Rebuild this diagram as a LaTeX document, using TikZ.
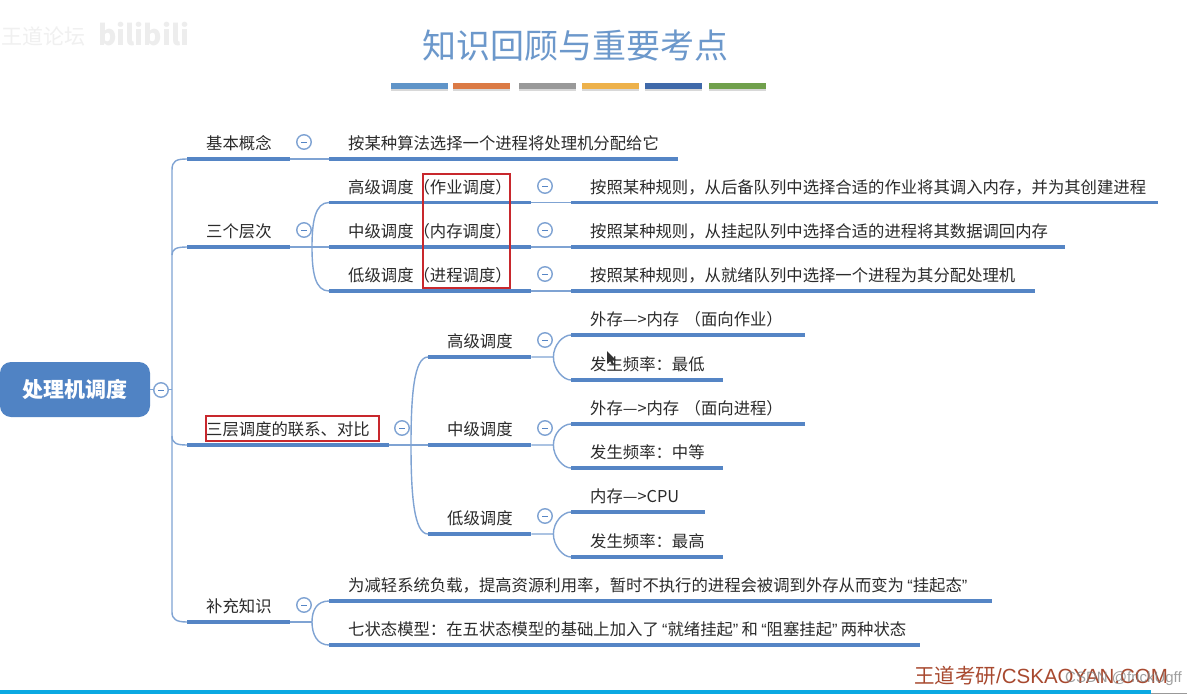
\documentclass[tikz,border=0pt]{standalone}
\usepackage{fontspec}
\setmainfont{Noto Sans CJK SC}
\newfontfamily\latinfont{Liberation Sans}
\usepackage{xcolor}
\usetikzlibrary{shadows,calc}
\definecolor{mapblue}{HTML}{5585C5}
\definecolor{linkblue}{HTML}{7FA3D3}
\definecolor{rootblue}{HTML}{5083C4}
\definecolor{titleblue}{HTML}{6C98CB}
\definecolor{boxred}{HTML}{C8282D}
\definecolor{inkgrey}{HTML}{2B2B2B}
\definecolor{wmred}{HTML}{A8492F}
\definecolor{barcyan}{HTML}{0AA9E2}
\definecolor{palA}{HTML}{5F94C8}
\definecolor{palB}{HTML}{DB7A45}
\definecolor{palC}{HTML}{999999}
\definecolor{palD}{HTML}{EDB14A}
\definecolor{palE}{HTML}{3F69A9}
\definecolor{palF}{HTML}{70A04C}
\newcommand{\quoted}[1]{\makebox[8.7pt][r]{\latinfont “}#1\makebox[8.7pt][l]{\latinfont ”}}
\tikzset{
  topic/.style  ={anchor=south west, inner sep=0pt, text width=#1,
                  align=left, text height=13pt, text depth=9pt,
                  font=\fontsize{16.35}{18}\selectfont, text=inkgrey,
                  execute at begin node=\hspace*{19pt}},
  uline/.style  ={line width=3.2pt, mapblue},
  link/.style   ={line width=1.4pt, linkblue},
  btn/.style    ={draw=linkblue, circle, fill=white, minimum size=14.5pt,
                  inner sep=0pt, line width=1.4pt,
                  path picture={\draw[mapblue, line width=0.8pt]
                    ([xshift=-3pt]path picture bounding box.center) --
                    ([xshift=3pt]path picture bounding box.center);}},
  rootbox/.style={rounded corners=11pt, fill=rootblue, text=white,
                  minimum width=150pt, minimum height=55pt, inner sep=0pt,
                  font=\fontsize{21}{24}\selectfont\bfseries},
  redbox/.style ={draw=boxred, line width=2pt, inner sep=0pt},
  pal/.style    ={minimum width=57pt, minimum height=6pt, inner sep=0pt,
                  drop shadow={shadow xshift=0pt, shadow yshift=-2pt,
                  opacity=.3}},
}
\begin{document}
\begin{tikzpicture}[x=1pt, y=-1pt]
  \useasboundingbox (0,0) rectangle (1187,694);
  \fill[white] (0,0) rectangle (1187,694);
  % top corner mark
  \node[anchor=west, inner sep=0pt, text=black!6,
        font=\fontsize{21}{22}\selectfont] (forum) at (1,36) {王道论坛};
  \node[anchor=west, inner sep=0pt, text=black!7,
        font=\fontsize{28}{30}\selectfont\bfseries] (bili) at (98,34) {bilibili};
  % title
  \node[font=\fontsize{34}{36}\selectfont, text=titleblue, inner sep=0pt] (title)
    at (575.5,46) {知识回顾与重要考点};
  \node[pal, fill=palA] (pal1) at (419.5,86) {};
  \node[pal, fill=palB] (pal2) at (481.5,86) {};
  \node[pal, fill=palC] (pal3) at (547.5,86) {};
  \node[pal, fill=palD] (pal4) at (610.5,86) {};
  \node[pal, fill=palE] (pal5) at (673.5,86) {};
  \node[pal, fill=palF] (pal6) at (737.5,86) {};
  % root and first level
  \node[rootbox] (root) at (75,389.5) {处理机调度};
  \node[topic=103pt] (basic)  at (187,159) {基本概念};
  \node[topic=103pt] (three)  at (187,247) {三个层次};
  \node[topic=202pt] (link)   at (187,445) {三层调度的联系、对比};
  \node[topic=103pt] (extra)  at (187,622) {补充知识};
  % second level
  \node[topic=349pt] (bdef) at (329,159) {按某种算法选择一个进程将处理机分配给它};
  \node[topic=202pt] (thi)  at (329,202.5) {高级调度（作业调度）};
  \node[topic=202pt] (tmid) at (329,247) {中级调度（内存调度）};
  \node[topic=202pt] (tlow) at (329,291) {低级调度（进程调度）};
  \node[topic=103pt] (lhi)  at (428,357) {高级调度};
  \node[topic=103pt] (lmid) at (428,445) {中级调度};
  \node[topic=103pt] (llow) at (428,534) {低级调度};
  \node[topic=663pt] (ex1)  at (329,601) {为减轻系统负载，提高资源利用率，暂时不执行的进程会被调到外存从而变为\quoted{挂起态}};
  \node[topic=591pt] (ex2)  at (329,645) {七状态模型：在五状态模型的基础上加入了\quoted{就绪挂起}和\quoted{阻塞挂起}两种状态};
  % third level
  \node[topic=587pt] (dhi)  at (571,202.5) {按照某种规则，从后备队列中选择合适的作业将其调入内存，并为其创建进程};
  \node[topic=494pt] (dmid) at (571,247) {按照某种规则，从挂起队列中选择合适的进程将其数据调回内存};
  \node[topic=464pt] (dlow) at (571,291) {按照某种规则，从就绪队列中选择一个进程为其分配处理机};
  \node[topic=234pt] (a1) at (571,335) {外存—>内存 （面向作业）};
  \node[topic=152pt] (a2) at (571,380) {发生频率：最低};
  \node[topic=234pt] (b1) at (571,424) {外存—>内存 （面向进程）};
  \node[topic=152pt] (b2) at (571,468) {发生频率：中等};
  \node[topic=134pt] (c1) at (571,512) {内存—>CPU};
  \node[topic=152pt] (c2) at (571,557) {发生频率：最高};
  % connectors
  \coordinate (spine) at (172,389.5);
  \draw[link] (root.east) -- (spine);
  \draw[link] (basic.south west) .. controls (176,159) and (172,161) .. (172,170)
    -- (172,612) .. controls (172,619) and (176,622) .. (extra.south west);
  \draw[link] (172,255) .. controls (172,249) and (176,247) .. (three.south west);
  \draw[link] (172,436) .. controls (172,443) and (176,445) .. (link.south west);
  \draw[link] (basic.south east) -- (bdef.south west);
  \draw[link] (three.south east) -- (tmid.south west);
  \draw[link] (312,247) .. controls (312,222) and (315,202.5) .. (thi.south west);
  \draw[link] (312,247) .. controls (312,272) and (315,291) .. (tlow.south west);
  \draw[link] (link.south east) -- (lmid.south west);
  \draw[link] (411,445) .. controls (411,395) and (414,357) .. (lhi.south west);
  \draw[link] (411,445) .. controls (411,495) and (414,534) .. (llow.south west);
  \draw[link] (extra.south east) -- (312,622);
  \draw[link] (312,622) .. controls (312,610) and (317,601) .. (ex1.south west);
  \draw[link] (312,622) .. controls (312,634) and (317,645) .. (ex2.south west);
  \draw[link] (thi.south east) -- (dhi.south west);
  \draw[link] (tmid.south east) -- (dmid.south west);
  \draw[link] (tlow.south east) -- (dlow.south west);
  \foreach \upper/\lower/\parent in {a1/a2/lhi,b1/b2/lmid,c1/c2/llow}{
    \draw[link] (\parent.south east) -- ++(22,0) coordinate (fork)
      .. controls ($(fork)+(0,-12)$) and ($(\upper.south west)+(-8,0)$) .. (\upper.south west);
    \draw[link] (fork)
      .. controls ($(fork)+(0,12)$) and ($(\lower.south west)+(-8,0)$) .. (\lower.south west);
  }
  % underlines
  \foreach \n in {basic,three,link,extra,bdef,thi,tmid,tlow,lhi,lmid,llow,
                  ex1,ex2,dhi,dmid,dlow,a1,a2,b1,b2,c1,c2}
    \draw[uline] (\n.south west) -- (\n.south east);
  % collapse buttons
  \node[btn] (broot)  at (161,390) {};
  \node[btn] (bbasic) at (304,142) {};
  \node[btn] (bthree) at (304,230) {};
  \node[btn] (blink)  at (402,428) {};
  \node[btn] (bextra) at (304,605) {};
  \node[btn] (bthi)   at (545,186) {};
  \node[btn] (btmid)  at (545,230) {};
  \node[btn] (btlow)  at (545,274) {};
  \node[btn] (blhi)   at (545,340) {};
  \node[btn] (blmid)  at (545,428) {};
  \node[btn] (bllow)  at (545,516) {};
  % red marks
  \node[redbox, minimum width=87pt, minimum height=114pt] (mark1) at (466.5,231) {};
  \node[redbox, minimum width=173pt, minimum height=25pt] (mark2) at (292,428.5) {};
  % pointer
  \fill[black!80] (607,351) -- (607,364) -- (610,361) -- (612,365) -- (614,364)
    -- (612,360) -- (616,360) -- cycle;
  % bottom
  \fill[barcyan] (0,690) rectangle (1151,694);
  \fill[black!40] (1151,692.5) rectangle (1187,694);
  \node[anchor=base west, inner sep=0pt, text=wmred,
        font=\fontsize{20.5}{22}\selectfont] (brand) at (914,683)
    {王道考研{\latinfont /CSKAOYAN.COM}};
  \node[anchor=base west, inner sep=0pt, text=black!50, opacity=.75,
        font=\fontsize{15}{16}\selectfont\latinfont] (csdn) at (1065,682)
    {CSDN @frickUgff};
\end{tikzpicture}
\end{document}
